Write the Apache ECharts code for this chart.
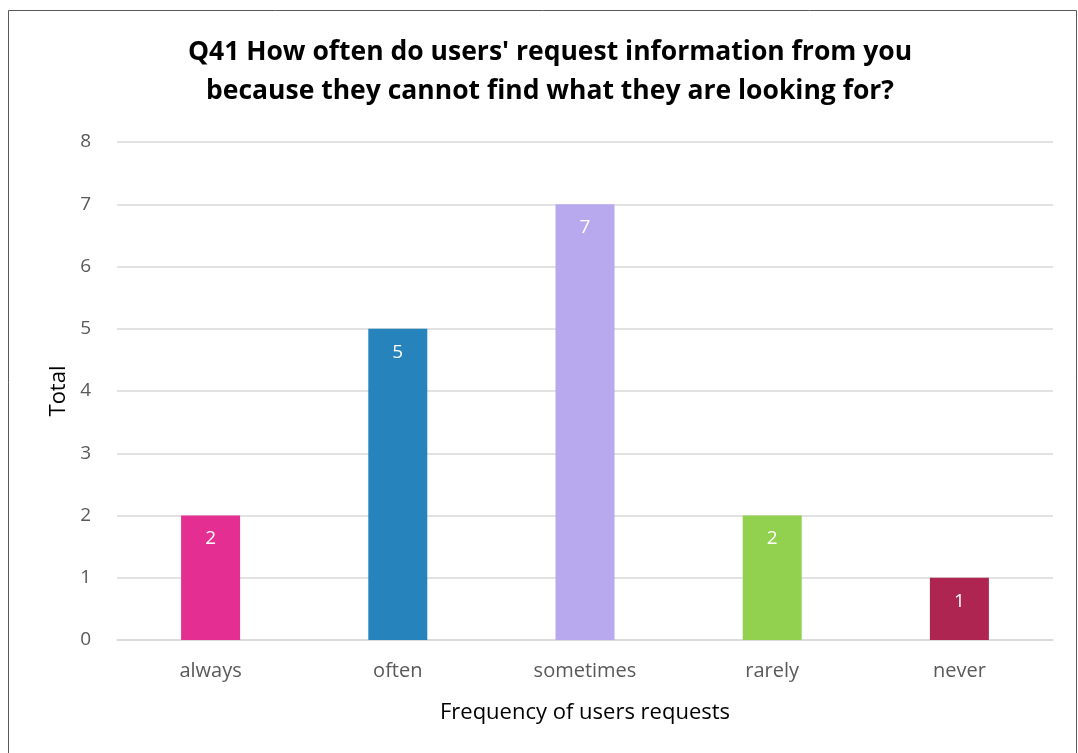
<!DOCTYPE html>
<html><head><meta charset="utf-8">
<script src="https://cdn.jsdelivr.net/npm/echarts@6/dist/echarts.min.js"></script>
<style>html,body{margin:0;padding:0;background:#fff}#c{width:1078px;height:753px}</style>
</head><body><div id="c"></div>
<script>
const categories = ['always', 'often', 'sometimes', 'rarely', 'never'];
const totals = [2, 5, 7, 2, 1];
const barColors = ['#E52E91', '#2683BC', '#B8A9EE', '#92D050', '#AD2550'];
const titleText = "Q41 How often do users' request information from you\nbecause they cannot find what they are looking for?";

const chart = echarts.init(document.getElementById('c'));
const font = '"Open Sans", Lato, sans-serif';
chart.setOption({
  animation: false,
  textStyle: { fontFamily: font },
  graphic: [{
    type: 'rect', shape: { x: 8.5, y: 10.5, width: 1068, height: 760 },
    style: { fill: 'none', stroke: '#595959', lineWidth: 1 }, silent: true
  }],
  title: {
    text: titleText, left: 545, top: 28, textAlign: 'center',
    textStyle: { fontFamily: font, fontSize: 26.5, fontWeight: 'bold', color: '#000', lineHeight: 39 }
  },
  grid: { left: 117, right: 25, top: 142, bottom: 113, containLabel: false },
  xAxis: {
    type: 'category', data: categories,
    name: 'Frequency of users requests', nameLocation: 'middle', nameGap: 62,
    nameTextStyle: { fontSize: 22, color: '#000', fontFamily: font },
    axisLine: { show: true, lineStyle: { color: '#D9D9D9', width: 1.5 } },
    axisTick: { show: false },
    axisLabel: { fontSize: 20, color: '#595959', margin: 21, fontFamily: font }
  },
  yAxis: {
    type: 'value', min: 0, max: 8, interval: 1,
    name: 'Total', nameLocation: 'middle', nameGap: 46, nameRotate: 90,
    nameTextStyle: { fontSize: 22, color: '#000', fontFamily: font },
    axisLine: { show: false }, axisTick: { show: false },
    axisLabel: { fontSize: 19, color: '#595959', margin: 26, fontFamily: font },
    splitLine: { lineStyle: { color: '#D9D9D9', width: 1.5 } }
  },
  series: [{
    type: 'bar', barWidth: 59,
    data: totals.map((v, i) => ({ value: v, itemStyle: { color: barColors[i] } })),
    label: { show: true, position: 'insideTop', distance: 14, color: '#fff', fontSize: 19, fontFamily: font }
  }]
});
</script></body></html>
